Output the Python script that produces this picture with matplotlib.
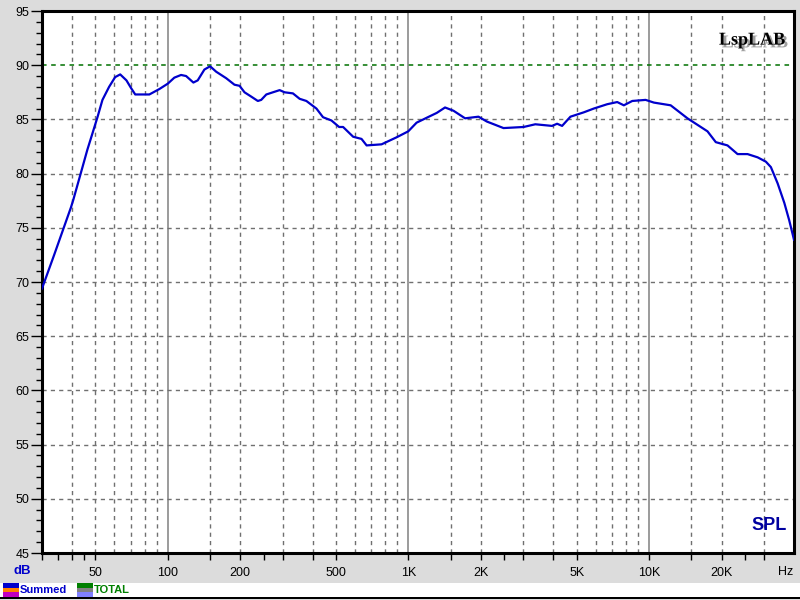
import numpy as np
import matplotlib
matplotlib.use("Agg")
import matplotlib.pyplot as plt
import matplotlib.patheffects as pe
from matplotlib.patches import Rectangle

# SPL response (Hz, dB)
freq = [30, 33.7, 39.6, 40.5, 44.2, 46.3, 48.6, 51.0, 53.5, 57.0, 60.4, 63.4,
        67.3, 70.3, 73.2, 83.8, 92.2, 100, 106.4, 113.5, 119.1, 127.7, 133.1,
        141.9, 149.9, 158.8, 174.8, 189.2, 198.6, 208.3, 222.2, 236.6, 244.4,
        256.6, 273.3, 291.5, 305.7, 331, 353, 376.5, 414.5, 441.6, 478.6, 515,
        535, 589, 638, 670, 773, 893, 998, 1081, 1229, 1311, 1419, 1538, 1719,
        1954, 2118, 2483, 3008, 3365, 3951, 4146, 4349, 4710, 5348, 5888, 6696,
        7370, 7852, 8511, 9669, 10470, 12290, 14430, 15880, 17480, 18930,
        21170, 23310, 25650, 28240, 30560, 32060, 34200, 36460, 38200, 40000]
spl = [69.4, 72.5, 76.9, 77.6, 80.6, 82.2, 83.7, 85.2, 86.8, 88.0, 88.9, 89.15,
       88.6, 87.9, 87.3, 87.3, 87.8, 88.3, 88.85, 89.1, 89.0, 88.4, 88.6,
       89.6, 89.9, 89.4, 88.8, 88.2, 88.1, 87.5, 87.1, 86.7, 86.8,
       87.3, 87.5, 87.7, 87.5, 87.4, 86.9, 86.7, 86.0, 85.2, 84.9, 84.3,
       84.3, 83.4, 83.2, 82.6, 82.7, 83.35, 83.9, 84.7, 85.3, 85.6, 86.1, 85.8, 85.1,
       85.25, 84.8, 84.2, 84.3, 84.55, 84.4, 84.6, 84.4, 85.25, 85.65, 86.0, 86.4,
       86.6, 86.3, 86.7, 86.8, 86.55, 86.3, 85.1, 84.5, 83.9, 82.9,
       82.6, 81.8, 81.8, 81.5, 81.1, 80.6, 79.1, 77.3, 75.7, 73.9]

yticks = list(range(45, 100, 5))
xlabels = {50: "50", 100: "100", 200: "200", 500: "500", 1000: "1K",
           2000: "2K", 5000: "5K", 10000: "10K", 20000: "20K"}
grid_minor = [40, 50, 60, 70, 80, 90, 150, 200, 300, 400, 500, 600, 700, 800, 900,
              1500, 2000, 3000, 4000, 5000, 6000, 7000, 8000, 9000,
              15000, 20000, 30000]
grid_major = [100, 1000, 10000]
xtick_marks = [30, 35, 40, 45, 50, 100, 150, 200, 250, 300, 400, 500, 1000,
               1500, 2000, 2500, 3000, 4000, 5000, 10000, 15000, 20000, 25000, 30000]

bg = "#dcdcdc"
fig = plt.figure(figsize=(8, 6), dpi=100, facecolor=bg)
ax = fig.add_axes([42 / 800, 47 / 600, 752 / 800, 542 / 600])
ax.set_xscale("log")
ax.set_xlim(30, 40000)
ax.set_ylim(45, 95)

for g in grid_minor:
    ax.axvline(g, color="#707070", lw=1, ls=(0, (3, 3)), zorder=1)
for g in grid_major:
    ax.axvline(g, color="#808080", lw=1.1, zorder=1)
for y in yticks[1:-1]:
    c = "#007000" if y == 90 else "#707070"
    ax.axhline(y, color=c, lw=1.1 if y == 90 else 1, ls=(0, (3, 3)), zorder=1)

ax.plot(freq, spl, color="#0000cc", lw=1.6, zorder=3)

for s in ax.spines.values():
    s.set_linewidth(2.2)

ax.set_yticks(yticks)
ax.set_yticks(range(45, 96), minor=True)
ax.set_yticklabels([str(v) for v in yticks], fontsize=9, family="Liberation Sans")
ax.tick_params(axis="y", which="major", length=8, width=1, pad=1)
ax.tick_params(axis="y", which="minor", length=4, width=1)

ax.set_xticks(xtick_marks)
ax.set_xticklabels([xlabels.get(v, "") for v in xtick_marks], fontsize=9,
                   family="Liberation Sans")
ax.xaxis.set_minor_locator(matplotlib.ticker.NullLocator())
ax.tick_params(axis="x", which="major", length=5, width=1, pad=5)

ax.text(0.99, 0.035, "SPL", transform=ax.transAxes, ha="right", va="bottom",
        fontsize=13, fontweight="bold", color="#0000a0", family="Liberation Sans")
# logo with shadow
ax.text(0.988, 0.962, "LspLAB", transform=ax.transAxes, ha="right", va="top",
        fontsize=13, fontweight="bold", color="black", family="Liberation Serif",
        path_effects=[pe.withSimplePatchShadow(offset=(2, -2), shadow_rgbFace="#a0a0a0",
                                               alpha=1.0)])

fig.text(22 / 800, 1 - 571 / 600, "dB", ha="center", va="center", fontsize=9.5,
         fontweight="bold", color="#0000cc", family="Liberation Sans")
fig.text(786 / 800, 1 - 572 / 600, "Hz", ha="center", va="center", fontsize=9,
         family="Liberation Sans")

# legend strip at the bottom
fig.patches.append(Rectangle((0, 3 / 600), 1, 14 / 600, transform=fig.transFigure,
                             facecolor="white", edgecolor="none"))
fig.patches.append(Rectangle((0, 1 / 600), 1, 2 / 600, transform=fig.transFigure,
                             facecolor="black", edgecolor="none"))


def swatch(x0, colors):
    for i, c in enumerate(colors):
        fig.patches.append(Rectangle((x0 / 800, (17 - 4.67 * (i + 1)) / 600), 16 / 800,
                                     4.67 / 600, transform=fig.transFigure,
                                     facecolor=c, edgecolor="none"))


swatch(3, ["#0000cc", "#ff8000", "#c000c0"])
swatch(77, ["#008000", "#808080", "#8080ff"])
fig.text(20 / 800, 1 - 590 / 600, "Summed", ha="left", va="center", fontsize=8,
         fontweight="bold", color="#0000cc", family="Liberation Sans")
fig.text(94 / 800, 1 - 590 / 600, "TOTAL", ha="left", va="center", fontsize=8,
         fontweight="bold", color="#008000", family="Liberation Sans")

fig.savefig("out.png", dpi=100, facecolor=bg)
